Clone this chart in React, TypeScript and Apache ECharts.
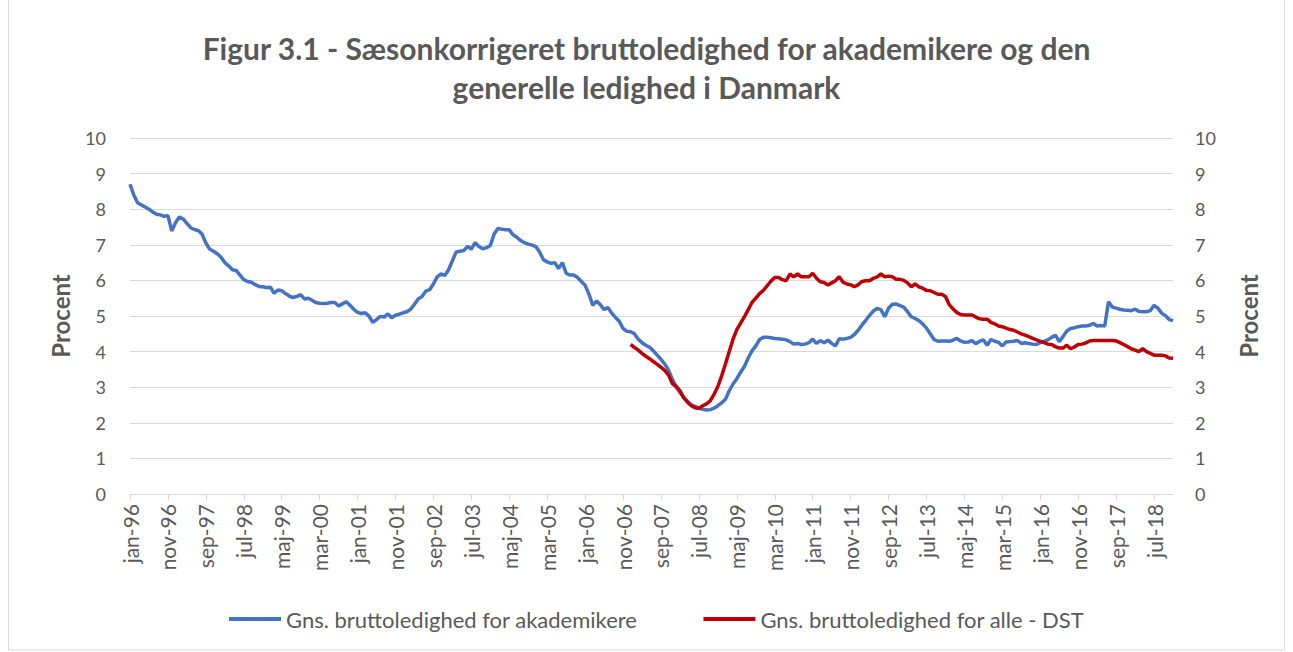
import React, { useEffect, useRef } from "react";
import * as echarts from "echarts";

const monthNames = ["jan", "feb", "mar", "apr", "maj", "jun", "jul", "aug", "sep", "okt", "nov", "dec"];
const years = [96, 97, 98, 99, 0, 1, 2, 3, 4, 5, 6, 7, 8, 9, 10, 11, 12, 13, 14, 15, 16, 17, 18];
const categories: string[] = [];
years.forEach((y) => monthNames.forEach((m) => categories.push(`${m}-${String(y).padStart(2, "0")}`)));

const yTicks = [0, 1, 2, 3, 4, 5, 6, 7, 8, 9, 10];

const akademikere = [
  8.70, 8.40, 8.18, 8.12, 8.06, 8.00, 7.92, 7.86, 7.84, 7.80, 7.82, 7.39,
  7.62, 7.78, 7.73, 7.60, 7.48, 7.43, 7.40, 7.30, 7.05, 6.88, 6.82, 6.75,
  6.65, 6.50, 6.41, 6.30, 6.28, 6.15, 6.02, 5.97, 5.95, 5.88, 5.83, 5.82,
  5.80, 5.81, 5.64, 5.73, 5.71, 5.63, 5.56, 5.52, 5.55, 5.60, 5.48, 5.50,
  5.44, 5.38, 5.36, 5.35, 5.36, 5.38, 5.38, 5.28, 5.34, 5.40, 5.30, 5.19,
  5.10, 5.07, 5.09, 5.00, 4.82, 4.90, 4.99, 4.97, 5.06, 4.95, 5.02, 5.05,
  5.09, 5.12, 5.19, 5.33, 5.48, 5.55, 5.70, 5.74, 5.90, 6.10, 6.18, 6.14,
  6.30, 6.55, 6.80, 6.82, 6.84, 6.95, 6.88, 7.06, 6.95, 6.89, 6.92, 6.98,
  7.30, 7.46, 7.44, 7.42, 7.42, 7.28, 7.21, 7.12, 7.06, 7.02, 6.99, 6.95,
  6.80, 6.58, 6.52, 6.48, 6.50, 6.33, 6.50, 6.20, 6.15, 6.15, 6.08, 5.97,
  5.86, 5.62, 5.30, 5.42, 5.32, 5.18, 5.24, 5.08, 4.96, 4.85, 4.65, 4.57,
  4.56, 4.50, 4.35, 4.25, 4.18, 4.12, 4.02, 3.90, 3.78, 3.65, 3.48, 3.22,
  3.02, 2.85, 2.72, 2.60, 2.50, 2.46, 2.42, 2.38, 2.36, 2.37, 2.41, 2.48,
  2.56, 2.66, 2.90, 3.09, 3.24, 3.42, 3.58, 3.82, 4.02, 4.16, 4.34, 4.40,
  4.40, 4.39, 4.37, 4.36, 4.35, 4.33, 4.28, 4.21, 4.23, 4.20, 4.21, 4.25,
  4.35, 4.23, 4.31, 4.25, 4.32, 4.23, 4.16, 4.36, 4.35, 4.37, 4.40, 4.48,
  4.60, 4.75, 4.88, 5.02, 5.14, 5.21, 5.18, 4.98, 5.22, 5.33, 5.34, 5.29,
  5.25, 5.12, 4.98, 4.93, 4.87, 4.78, 4.66, 4.50, 4.34, 4.29, 4.30, 4.30,
  4.29, 4.32, 4.37, 4.30, 4.26, 4.27, 4.31, 4.22, 4.29, 4.33, 4.18, 4.34,
  4.29, 4.26, 4.16, 4.27, 4.28, 4.29, 4.31, 4.23, 4.25, 4.23, 4.21, 4.20,
  4.25, 4.29, 4.33, 4.40, 4.46, 4.28, 4.42, 4.58, 4.65, 4.67, 4.70, 4.72,
  4.72, 4.74, 4.79, 4.72, 4.73, 4.72, 5.40, 5.25, 5.22, 5.19, 5.17, 5.16,
  5.15, 5.19, 5.13, 5.12, 5.12, 5.15, 5.30, 5.22, 5.08, 5.01, 4.90, 4.87,
];

const alleDstStart = 132;
const alleDstValues = [
  4.20, 4.12, 4.04, 3.95, 3.87, 3.80, 3.72, 3.64, 3.56, 3.47, 3.34, 3.10,
  3.02, 2.90, 2.70, 2.58, 2.48, 2.42, 2.40, 2.48, 2.53, 2.62, 2.80, 3.02,
  3.32, 3.65, 4.00, 4.35, 4.62, 4.80, 4.98, 5.18, 5.38, 5.50, 5.63, 5.72,
  5.85, 5.98, 6.08, 6.08, 6.02, 5.99, 6.18, 6.10, 6.18, 6.10, 6.10, 6.10,
  6.20, 6.06, 5.96, 5.94, 5.87, 5.93, 5.99, 6.10, 5.95, 5.90, 5.88, 5.82,
  5.88, 5.97, 5.99, 5.99, 6.06, 6.10, 6.18, 6.10, 6.12, 6.10, 6.03, 6.03,
  6.00, 5.93, 5.82, 5.90, 5.82, 5.78, 5.72, 5.71, 5.66, 5.61, 5.61, 5.55,
  5.32, 5.20, 5.10, 5.04, 5.03, 5.03, 5.03, 4.97, 4.92, 4.91, 4.91, 4.82,
  4.78, 4.72, 4.70, 4.66, 4.62, 4.60, 4.55, 4.50, 4.46, 4.42, 4.37, 4.33,
  4.29, 4.25, 4.21, 4.20, 4.14, 4.10, 4.10, 4.18, 4.08, 4.13, 4.20, 4.21,
  4.24, 4.30, 4.31, 4.31, 4.31, 4.31, 4.31, 4.31, 4.30, 4.25, 4.20, 4.14,
  4.08, 4.04, 4.00, 4.08, 4.00, 3.95, 3.90, 3.90, 3.90, 3.88, 3.82, 3.81,
];

const seriesNames = ["Gns. bruttoledighed for akademikere", "Gns. bruttoledighed for alle - DST"];
const titleText = "Figur 3.1 - Sæsonkorrigeret bruttoledighed for akademikere og den\ngenerelle ledighed i Danmark";

export default function App() {
  const ref = useRef<HTMLDivElement>(null);
  useEffect(() => {
    if (!ref.current) return;
    const chart = echarts.init(ref.current, null, { renderer: "svg" });
    const alle: (number | null)[] = categories.map((_, i) =>
      i >= alleDstStart && i - alleDstStart < alleDstValues.length ? alleDstValues[i - alleDstStart] : null
    );
    const grey = "#595959";
    const font = "Lato, 'Open Sans', sans-serif";
    const yAxisCommon = {
      type: "value" as const,
      min: yTicks[0],
      max: yTicks[yTicks.length - 1],
      interval: 1,
      name: "Procent",
      nameLocation: "middle" as const,
      nameRotate: 90,
      nameTextStyle: { color: grey, fontSize: 24, fontWeight: "bold" as const, fontFamily: font },
      axisLine: { show: false },
      axisTick: { show: false },
    };
    chart.setOption({
      animation: false,
      backgroundColor: "#ffffff",
      textStyle: { fontFamily: font },
      title: {
        text: titleText,
        left: "center",
        top: 28,
        padding: 0,
        textStyle: { color: grey, fontSize: 30, fontWeight: "bold", lineHeight: 39, fontFamily: font },
      },
      graphic: [
        {
          type: "rect",
          shape: { x: 8.5, y: -1, width: 1276, height: 651 },
          style: { fill: "none", stroke: "#d9d9d9", lineWidth: 1 },
          silent: true,
        },
      ],
      legend: {
        left: 224,
        top: 603,
        icon: "rect",
        itemWidth: 52,
        itemHeight: 4,
        itemGap: 66,
        textStyle: { color: grey, fontSize: 22, fontFamily: font },
        data: seriesNames,
      },
      grid: { left: 130, right: 120, top: 138, bottom: 158, containLabel: false },
      xAxis: {
        type: "category",
        data: categories,
        boundaryGap: false,
        axisLine: { lineStyle: { color: "#d9d9d9", width: 1 } },
        axisTick: { interval: 9, length: 6, lineStyle: { color: "#d9d9d9" } },
        axisLabel: { interval: 9, rotate: 90, margin: 10, color: grey, fontSize: 21, fontFamily: font },
        splitLine: { show: false },
      },
      yAxis: [
        {
          ...yAxisCommon,
          position: "left",
          nameGap: 58,
          axisLabel: { color: grey, fontSize: 18, margin: 24, fontFamily: font },
          splitLine: { show: true, lineStyle: { color: "#d9d9d9", width: 1 } },
        },
        {
          ...yAxisCommon,
          position: "right",
          nameGap: 63,
          axisLabel: { color: grey, fontSize: 18, margin: 22, fontFamily: font },
          splitLine: { show: false },
        },
      ],
      series: [
        {
          name: seriesNames[0],
          type: "line",
          data: akademikere,
          yAxisIndex: 0,
          showSymbol: false,
          symbol: "none",
          lineStyle: { color: "#4472C4", width: 3.5 },
          itemStyle: { color: "#4472C4" },
          z: 3,
        },
        {
          name: seriesNames[1],
          type: "line",
          data: alle,
          yAxisIndex: 0,
          showSymbol: false,
          symbol: "none",
          connectNulls: false,
          lineStyle: { color: "#C00000", width: 3.5 },
          itemStyle: { color: "#C00000" },
          z: 4,
        },
      ],
    });
    return () => chart.dispose();
  }, []);
  return (
    <div
      ref={ref}
      style={{ position: "fixed", left: 0, top: 0, width: 1293, height: 652, background: "#fff" }}
    />
  );
}
